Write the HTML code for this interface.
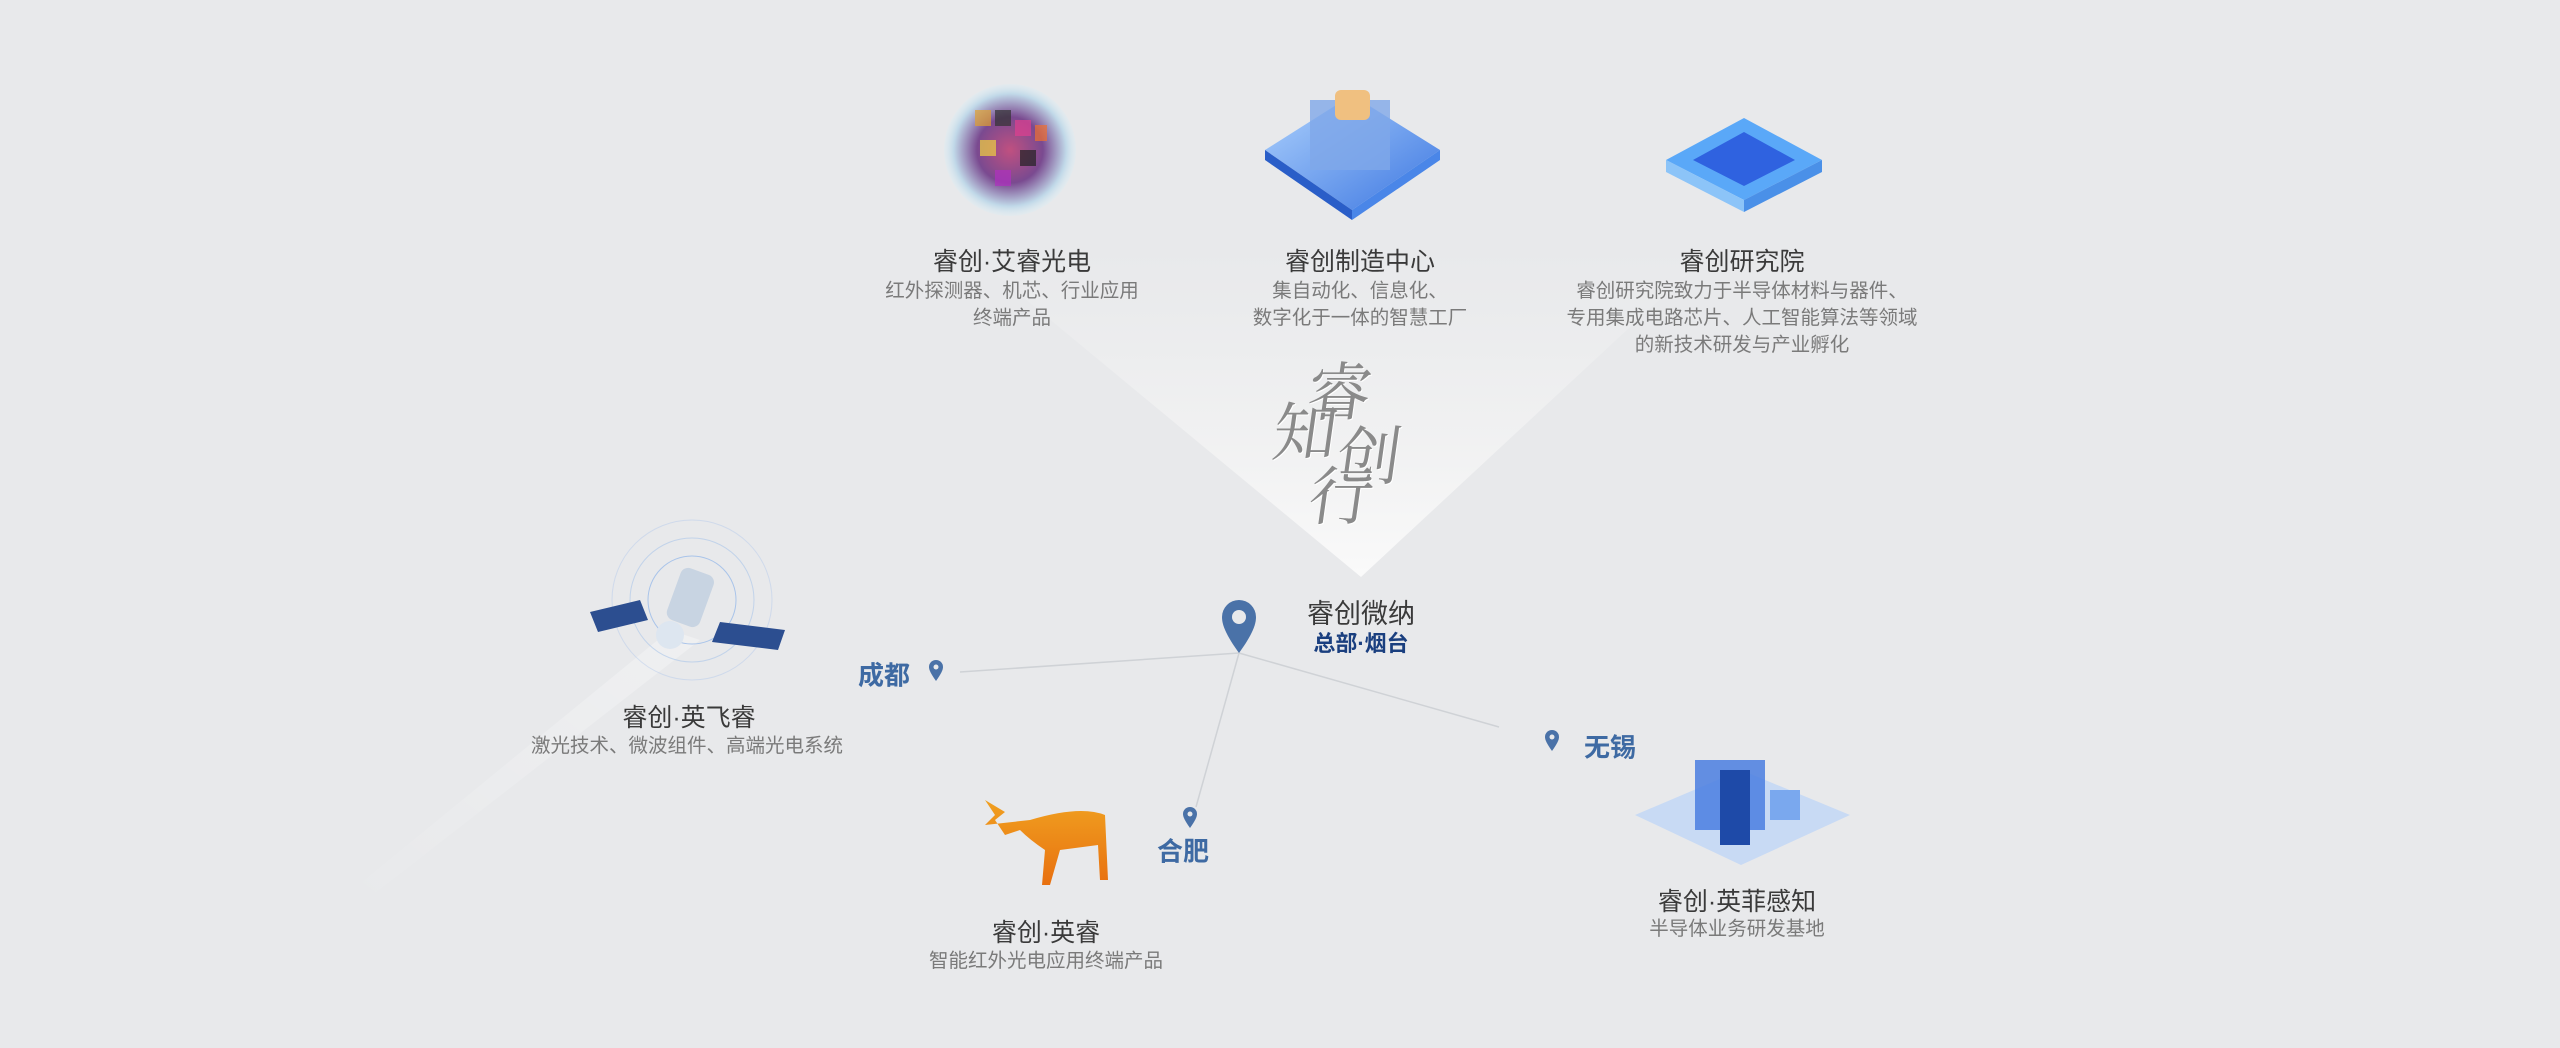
<!DOCTYPE html>
<html><head><meta charset="utf-8"><style>
html,body{margin:0;padding:0}
body{width:2560px;height:1048px;position:relative;overflow:hidden;background:#e8e9eb;font-family:"Liberation Sans","Noto Sans CJK SC",sans-serif}
.t{position:absolute;transform:translateX(-50%);white-space:nowrap;text-align:center}
.ti{font-size:25px;color:#3a3a3a}
.de{font-size:19.5px;color:#7a7a7a;line-height:27px}
.city{position:absolute;font-size:26px;color:#3e6aa3;font-weight:bold;transform:translate(-50%,-50%);white-space:nowrap}
.cal{position:absolute;font-family:"Noto Serif CJK SC",serif;font-size:64px;color:#8a8a8a;transform:translate(-50%,-50%) skewX(-8deg);text-shadow:1px 1px 0 #fff}
</style></head><body>
<svg width="2560" height="1048" style="position:absolute;left:0;top:0">
<defs>
<linearGradient id="tri" x1="0" y1="0" x2="0" y2="1">
<stop offset="0" stop-color="#f7f7f7" stop-opacity="0"/>
<stop offset="0.2" stop-color="#f5f5f5" stop-opacity="0.2"/>
<stop offset="0.6" stop-color="#f5f5f5" stop-opacity="0.7"/>
<stop offset="1" stop-color="#fafafa" stop-opacity="1"/>
</linearGradient>
<linearGradient id="beam" x1="0" y1="1" x2="1" y2="0">
<stop offset="0" stop-color="#fff" stop-opacity="0"/>
<stop offset="1" stop-color="#fff" stop-opacity="0.7"/>
</linearGradient>
<radialGradient id="globe" cx="0.5" cy="0.5" r="0.5">
<stop offset="0" stop-color="#c05080"/><stop offset="0.5" stop-color="#7a4a90"/><stop offset="0.85" stop-color="#c0d8e8"/><stop offset="1" stop-color="#d8ecf4" stop-opacity="0.3"/>
</radialGradient>
<linearGradient id="blue" x1="0" y1="0" x2="1" y2="1"><stop offset="0" stop-color="#a8d0ff"/><stop offset="1" stop-color="#2a6ae0"/></linearGradient>
<linearGradient id="deer" x1="0" y1="0" x2="0" y2="1"><stop offset="0" stop-color="#f0a020"/><stop offset="1" stop-color="#e87010"/></linearGradient>
</defs>
<polygon points="966,250 1713,250 1361,577" fill="url(#tri)"/>
<polygon points="340,900 360,905 700,640 670,630" fill="url(#beam)" opacity="0.45"/>
<g stroke="#cfd2d6" stroke-width="1.5" fill="none">
<line x1="1239" y1="653" x2="960" y2="672"/>
<line x1="1239" y1="653" x2="1196" y2="807"/>
<line x1="1239" y1="653" x2="1499" y2="727"/>
</g>
<circle cx="1010" cy="150" r="66" fill="url(#globe)"/>
<g opacity="0.7">
<rect x="975" y="110" width="16" height="16" fill="#e0a030"/><rect x="995" y="110" width="16" height="16" fill="#333"/><rect x="1015" y="120" width="16" height="16" fill="#e04090"/>
<rect x="980" y="140" width="16" height="16" fill="#f0d040"/><rect x="1020" y="150" width="16" height="16" fill="#222"/><rect x="995" y="170" width="16" height="16" fill="#b030c0"/><rect x="1035" y="125" width="12" height="16" fill="#f07030"/>
</g>
<polygon points="1352,95 1440,150 1352,210 1265,150" fill="url(#blue)" opacity="0.9"/>
<polygon points="1265,150 1352,210 1352,220 1265,160" fill="#2a5ec8"/>
<polygon points="1352,210 1440,150 1440,160 1352,220" fill="#4a86e8"/>
<rect x="1310" y="100" width="80" height="70" fill="#7fa8e8" opacity="0.8"/>
<rect x="1335" y="90" width="35" height="30" rx="6" fill="#f0c080"/>
<polygon points="1744,118 1822,160 1744,200 1666,160" fill="#5aa8f8"/>
<polygon points="1666,160 1744,200 1744,212 1666,172" fill="#8cc4f8"/>
<polygon points="1744,200 1822,160 1822,172 1744,212" fill="#4a90e8"/>
<polygon points="1744,132 1795,160 1744,186 1693,160" fill="#2f62e0"/>
<g fill="none" stroke="#a9c4ea">
<circle cx="692" cy="600" r="80" opacity="0.4"/><circle cx="692" cy="600" r="62" opacity="0.6"/><circle cx="692" cy="600" r="44"/>
</g>
<polygon points="590,612 640,600 648,620 598,632" fill="#2c4e90"/>
<polygon points="720,622 785,630 778,650 712,642" fill="#2c4e90"/>
<rect x="672" y="570" width="35" height="55" rx="8" fill="#c8d4e2" transform="rotate(20 690 600)"/>
<circle cx="670" cy="635" r="14" fill="#dde6f0"/>
<path d="M1030,820 Q1080,805 1105,815 L1108,880 L1100,880 L1098,845 L1060,850 L1050,885 L1042,885 L1045,850 Q1030,840 1020,830 L1005,835 L995,820 L1005,812 L985,800 L995,815 L985,825 Z" fill="url(#deer)"/>
<polygon points="1741,770 1850,815 1741,865 1635,815" fill="#c8daf4"/>
<rect x="1695" y="760" width="70" height="70" fill="#4a7ee0" opacity="0.85"/>
<rect x="1720" y="770" width="30" height="75" fill="#1e4aa8"/>
<rect x="1770" y="790" width="30" height="30" fill="#7aa8ee"/>
<path d="M1239,653 C1226,635 1222,625 1222,617 A17,17 0 1 1 1256,617 C1256,625 1252,635 1239,653 Z" fill="#4a72a8"/>
<circle cx="1239" cy="617" r="7" fill="#e8e9eb"/>
<g fill="#4a72a8">
<path d="M936,681 C931,674 929,670 929,667 A7,7 0 1 1 943,667 C943,670 941,674 936,681 Z"/>
<path d="M1552,751 C1547,744 1545,740 1545,737 A7,7 0 1 1 1559,737 C1559,740 1557,744 1552,751 Z"/>
<path d="M1190,828 C1185,821 1183,817 1183,814 A7,7 0 1 1 1197,814 C1197,817 1195,821 1190,828 Z"/>
</g>
<g fill="#e8e9eb"><circle cx="936" cy="667" r="2.5"/><circle cx="1552" cy="737" r="2.5"/><circle cx="1190" cy="814" r="2.5"/></g>
</svg>

<div class="cal" style="left:1340px;top:388px">睿</div>
<div class="cal" style="left:1306px;top:428px">知</div>
<div class="cal" style="left:1370px;top:452px">创</div>
<div class="cal" style="left:1342px;top:492px">行</div>

<div class="t ti" style="left:1012px;top:242px">睿创·艾睿光电</div>
<div class="t de" style="left:1012px;top:278px">红外探测器、机芯、行业应用<br>终端产品</div>
<div class="t ti" style="left:1360px;top:242px">睿创制造中心</div>
<div class="t de" style="left:1360px;top:278px">集自动化、信息化、<br>数字化于一体的智慧工厂</div>
<div class="t ti" style="left:1742px;top:242px">睿创研究院</div>
<div class="t de" style="left:1742px;top:278px">睿创研究院致力于半导体材料与器件、<br>专用集成电路芯片、人工智能算法等领域<br>的新技术研发与产业孵化</div>

<div class="t" style="left:1361px;top:592px;font-size:27px;color:#3a3a3a">睿创微纳</div>
<div class="t" style="left:1361px;top:626px;font-size:22px;color:#1a3f7f;font-weight:bold">总部·烟台</div>

<div class="city" style="left:884px;top:674px">成都</div>
<div class="city" style="left:1610px;top:746px">无锡</div>
<div class="city" style="left:1183px;top:850px">合肥</div>

<div class="t ti" style="left:689px;top:698px">睿创·英飞睿</div>
<div class="t de" style="left:687px;top:733px">激光技术、微波组件、高端光电系统</div>
<div class="t ti" style="left:1046px;top:913px">睿创·英睿</div>
<div class="t de" style="left:1046px;top:948px">智能红外光电应用终端产品</div>
<div class="t ti" style="left:1737px;top:882px">睿创·英菲感知</div>
<div class="t de" style="left:1737px;top:916px">半导体业务研发基地</div>
</body></html>
